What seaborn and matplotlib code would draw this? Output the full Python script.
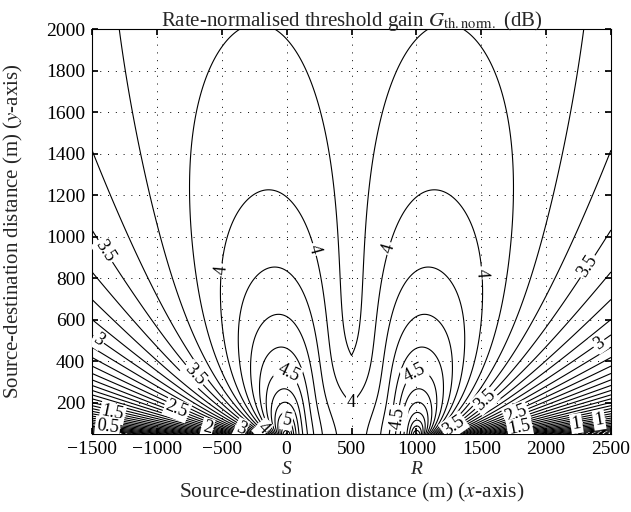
import numpy as np
import matplotlib
matplotlib.use("Agg")
import matplotlib.pyplot as plt
import seaborn as sns

# positions of source and relay on the x-axis (m)
source_x = 0.0
relay_x = 1000.0

# plotted area (m)
x_range = [-1500, 2500]
y_range = [50, 2000]
x_ticks = [-1500, -1000, -500, 0, 500, 1000, 1500, 2000, 2500]
y_ticks = [200, 400, 600, 800, 1000, 1200, 1400, 1600, 1800, 2000]

# contour levels (dB), labelled every 0.5 dB
levels = np.arange(-2.0, 7.01, 0.125)
label_levels = [0.5, 1, 1.5, 2, 2.5, 3, 3.5, 4, 4.5, 5]

# points (left half, the chart is
# symmetric about x = 500): x (m), y (m), gain (dB)
read_x = [-1340, -440, -230, -338, 0, -700, 150, -1500, -1500, -1500,
          -1500, -1500, -1500, -1500, -1500, -1341, -1380, -848, -609, -347,
          -185, -694, -1148, -902, -771, -478, -170, 200, -154, -100,
          -60, 62, 8, 500, 254, 393, -740, 509, 500, 500, 500]
read_y = [2000, 2000, 2000, 2000, 2000, 2000, 2000, 1393, 1080, 873,
          753, 609, 540, 421, 358, 151, 84, 166, 84, 84,
          79, 344, 843, 843, 843, 843, 1189, 936, 857, 650,
          497, 392, 132, 444, 1417, 1080, 1417, 166, 800, 1400, 2000]
read_g = [3.75, 3.875, 3.875, 3.89, 3.83, 3.84, 3.82, 3.625, 3.5, 3.375,
          3.25, 3.125, 3.0, 2.875, 2.75, 1.5, 0.5, 2.5, 2.0, 3.0,
          4.0, 3.5, 3.625, 3.75, 3.875, 4.0, 4.0, 4.0, 4.125, 4.25,
          4.375, 4.5, 5.0, 3.875, 3.875, 3.875, 3.875, 4.0, 3.82, 3.81, 3.81]
read_w = [1, 4, 4, 2, 2, 2, 2, 1, 1, 1,
          1, 1, 1, 1, 1, 1, 1, 1, 1, 1,
          1, 1, 1, 1, 2, 2, 3, 2, 1, 1,
          1, 1, 1, 3, 3, 3, 2, 2, 2, 2, 2]

# where the labels sit in the reference (m)
label_x = [-1410, -493, 200, 771, 1487, 509, 62, 933, 8, 848, -185, -347,
           -609, -848, -1341, -1380, -694, -1441, 1295, 1503, 1773, 1796,
           2235, 2412, 2389, 2281]
label_y = [926, 840, 936, 946, 825, 166, 392, 392, 132, 127, 79, 84,
           84, 166, 151, 84, 344, 512, 84, 228, 142, 84,
           93, 103, 503, 873]


def features(x, y):
    x = np.asarray(x, dtype=float)
    y = np.asarray(y, dtype=float)
    d1 = np.hypot(x - source_x, y)
    d2 = np.hypot(x - relay_x, y)
    dist = relay_x - source_x
    t = np.clip(1 - np.abs(d2 - d1) / dist, 1e-9, None)
    s = np.minimum(d1, d2)
    tau = t * (1 + dist / s)
    cols = [np.ones_like(s),
            np.log(s / 1000),
            np.log1p((s / 1300) ** 3) / 3,
            np.log(tau / (tau + 0.05)),
            np.log(tau / (tau + 0.5))]
    for c in [0.6, 1.0, 1.6, 2.6]:
        cols.append(np.exp(-np.log(tau / c) ** 2 / (2 * 0.3 ** 2)))
    return np.stack(cols, axis=-1)


# smooth gain surface fitted to the read points
w = np.sqrt(np.asarray(read_w, dtype=float))
A = features(read_x, read_y) * w[:, None]
b = np.asarray(read_g) * w
ridge = 1e-3 * np.eye(A.shape[1])
coef = np.linalg.solve(A.T @ A + ridge, A.T @ b)

xs = np.linspace(x_range[0], x_range[1], 1601)
ys = np.linspace(y_range[0], y_range[1], 976)
X, Y = np.meshgrid(xs, ys)
G = features(X, Y) @ coef

sns.set_theme(style="ticks")
plt.rcParams["font.family"] = ["Liberation Serif", "DejaVu Serif"]
plt.rcParams["mathtext.fontset"] = "stix"
plt.rcParams["axes.unicode_minus"] = True

fig = plt.figure(figsize=(6.31, 5.12), dpi=100)
ax = fig.add_axes([92 / 631, 1 - 434 / 512, 519 / 631, 405 / 512])

plain_levels = [v for v in levels if not np.isclose(v, label_levels).any()]
ax.contour(X, Y, G, levels=plain_levels, colors="black", linewidths=0.8)
cs = ax.contour(X, Y, G, levels=label_levels, colors="black", linewidths=0.8)
labels = ax.clabel(cs, inline=True, inline_spacing=2,
                   fontsize=13, fmt=lambda v: f"{v:g}",
                   manual=list(zip(label_x, label_y)))
for txt in labels:
    txt.set_bbox(dict(boxstyle="square,pad=0.08", fc="white", ec="none"))

ax.set_xlim(x_range)
ax.set_ylim(y_range)
ax.set_xticks(x_ticks)
ax.set_yticks(y_ticks)
ax.grid(True, color="black", linestyle=(0, (1, 7)), linewidth=0.7)
ax.tick_params(direction="in", top=True, right=True, length=4,
               labelsize=14, colors="black", pad=5)
for sp in ax.spines.values():
    sp.set_color("black")
    sp.set_linewidth(0.8)

ax.set_title(r"Rate-normalised threshold gain $G_{\mathrm{th.norm.}}$ (dB)",
             fontsize=15, pad=2)
ax.set_xlabel(r"Source-destination distance (m) ($x$-axis)", fontsize=15.5)
ax.set_ylabel(r"Source-destination distance (m) ($y$-axis)", fontsize=15)
ax.xaxis.set_label_coords(0.5, -0.115)
ax.yaxis.set_label_coords(-0.13, 0.5)

trans = ax.get_xaxis_transform()
ax.text(source_x, -0.066, "S", transform=trans, ha="center", va="top",
        fontsize=14, style="italic")
ax.text(relay_x, -0.066, "R", transform=trans, ha="center", va="top",
        fontsize=14, style="italic")

fig.savefig("out.png", dpi=100)
